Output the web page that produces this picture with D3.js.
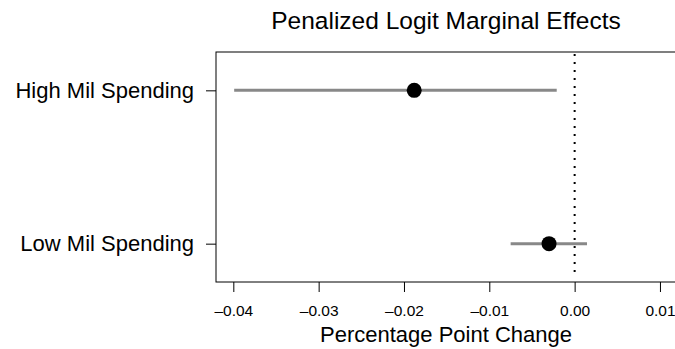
<!DOCTYPE html>
<html>
<head>
<meta charset="utf-8">
<script src="https://cdn.jsdelivr.net/npm/d3@7"></script>
<style>
  body { margin: 0; background: #fff; }
  svg { display: block; font-family: "Liberation Sans", Arial, sans-serif; }
</style>
</head>
<body>
<svg width="675" height="349"></svg>
<script>
// data
let labels = ["Low Mil Spending", "High Mil Spending"];
let estimates = [-0.0030, -0.0188];
let lower = [-0.0075, -0.0399];
let upper = [0.00145, -0.0021];
let xTicks = [-0.04, -0.03, -0.02, -0.01, 0.00, 0.01];

let width = 675, height = 349;
let svg = d3.select("svg");

// plot box
let boxLeft = 216, boxTop = 52, boxBottom = 282;

let x = d3.scaleLinear()
    .domain([-0.04203, 0.0125])
    .range([boxLeft, boxLeft + 465.3]);

let y = d3.scaleLinear()
    .domain([0.75, 2.25])
    .range([boxBottom, boxTop]);

let rows = labels.map((l, i) => ({ label: l, pos: i + 1, est: estimates[i], lo: lower[i], hi: upper[i] }));

// box
svg.append("rect")
    .attr("x", x.range()[0])
    .attr("y", boxTop)
    .attr("width", x.range()[1] - x.range()[0])
    .attr("height", boxBottom - boxTop)
    .attr("fill", "none")
    .attr("stroke", "#000")
    .attr("stroke-width", 1);

// zero line
svg.append("line")
    .attr("x1", x(0)).attr("x2", x(0))
    .attr("y1", boxTop + 2).attr("y2", boxBottom - 6)
    .attr("stroke", "#000")
    .attr("stroke-width", 2)
    .attr("stroke-dasharray", "2,6");

// x axis
let xAxis = d3.axisBottom(x)
    .tickValues(xTicks)
    .tickSize(10)
    .tickPadding(13)
    .tickFormat(d => d3.format(".2f")(d).replace("\u2212", "\u2013").replace("-", "\u2013"));

let gx = svg.append("g")
    .attr("transform", `translate(0,${boxBottom})`)
    .call(xAxis);
gx.select(".domain").remove();
gx.selectAll(".tick line").attr("stroke", "#000");
gx.selectAll("text").attr("font-size", "15.5px").attr("fill", "#000")
    .attr("font-family", "Liberation Sans, Arial, sans-serif");

// y axis
let yAxis = d3.axisLeft(y)
    .tickValues(rows.map(d => d.pos))
    .tickFormat((d, i) => labels[i])
    .tickSize(10)
    .tickPadding(12);

let gy = svg.append("g")
    .attr("transform", `translate(${boxLeft},0)`)
    .call(yAxis);
gy.select(".domain").remove();
gy.selectAll(".tick line").attr("stroke", "#000");
gy.selectAll("text").attr("font-size", "22px").attr("fill", "#000")
    .attr("font-family", "Liberation Sans, Arial, sans-serif");

// intervals
svg.append("g")
    .selectAll("line")
    .data(rows)
    .enter()
    .append("line")
    .attr("x1", d => x(d.lo))
    .attr("x2", d => x(d.hi))
    .attr("y1", d => y(d.pos))
    .attr("y2", d => y(d.pos))
    .attr("stroke", "#888")
    .attr("stroke-width", 3);

// points
svg.append("g")
    .selectAll("circle")
    .data(rows)
    .enter()
    .append("circle")
    .attr("cx", d => x(d.est))
    .attr("cy", d => y(d.pos))
    .attr("r", 7.5)
    .attr("fill", "#000");

// title
svg.append("text")
    .attr("x", 446)
    .attr("y", 29)
    .attr("text-anchor", "middle")
    .attr("font-size", "24.5px")
    .text("Penalized Logit Marginal Effects");

// x label
svg.append("text")
    .attr("x", 446)
    .attr("y", 342)
    .attr("text-anchor", "middle")
    .attr("font-size", "22px")
    .text("Percentage Point Change");
</script>
</body>
</html>
